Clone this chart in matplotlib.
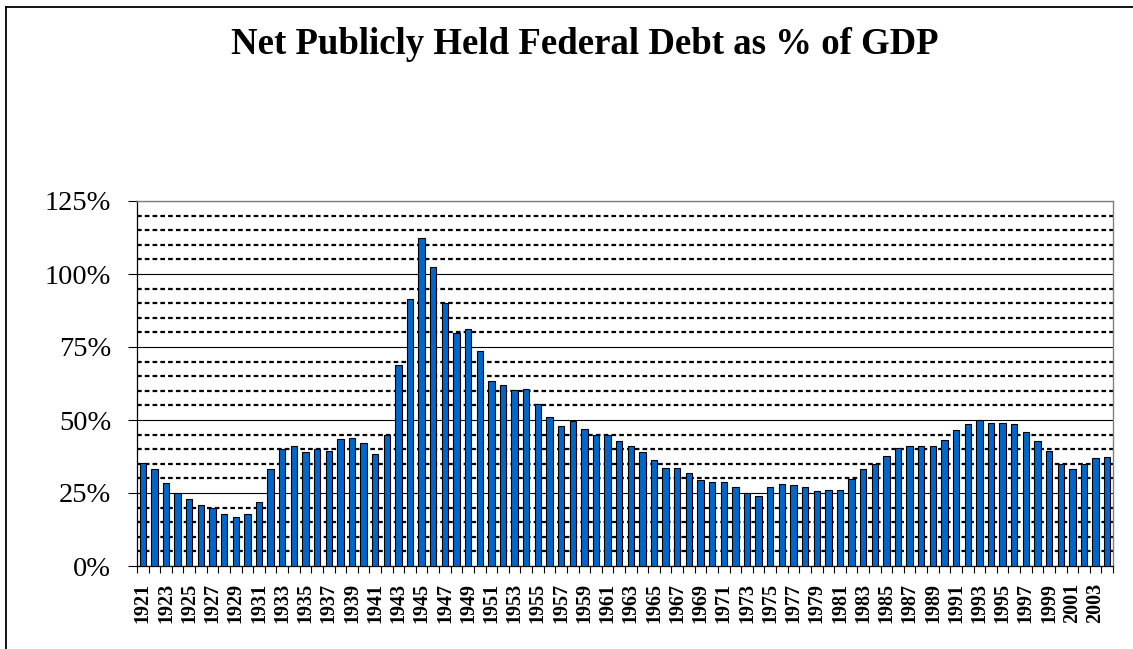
import matplotlib
matplotlib.use("Agg")
import matplotlib.pyplot as plt
from matplotlib.ticker import MultipleLocator, FixedLocator, FuncFormatter
from matplotlib.lines import Line2D
import numpy as np

# Fiscal years shown on the category axis
years = list(range(1921, 2005))

# Net publicly held federal debt, percent of GDP
debt_pct = [
    35.3, 33.2, 28.3, 25.1, 23.1, 21.0, 19.9, 17.7, 16.7, 17.7,   # 1921-1930
    21.9, 33.2, 40.1, 41.2, 38.9, 40.1, 39.5, 43.4, 43.7, 42.2,   # 1931-1940
    38.5, 44.9, 69.0, 91.3, 112.4, 102.4, 90.1, 79.9, 81.1, 73.6,  # 1941-1950
    63.4, 61.9, 60.3, 60.7, 55.4, 51.1, 48.1, 49.5, 46.9, 44.9,   # 1951-1960
    44.9, 42.7, 41.1, 38.9, 36.3, 33.7, 33.7, 32.0, 29.3, 28.9,   # 1961-1970
    28.9, 27.2, 25.1, 24.1, 27.2, 28.2, 27.7, 27.2, 25.6, 26.1,   # 1971-1980
    26.1, 29.8, 33.1, 34.8, 37.8, 40.5, 41.1, 41.1, 41.1, 43.3,   # 1981-1990
    46.5, 48.5, 50.1, 49.1, 49.1, 48.5, 45.9, 42.7, 39.4, 34.8,   # 1991-2000
    33.1, 34.8, 36.9, 37.4,                                       # 2001-2004
]

title = "Net Publicly Held Federal Debt as % of GDP"

W, H = 1133, 649
fig = plt.figure(figsize=(W / 100, H / 100), dpi=100)
fig.patch.set_facecolor("white")

serif = ["Liberation Serif", "DejaVu Serif"]

# chart-area frame: top and left edges
fig.add_artist(Line2D([6 / W, 1.0], [1 - 7 / H, 1 - 7 / H], transform=fig.transFigure,
                      color="black", lw=1.3))
fig.add_artist(Line2D([6 / W, 6 / W], [0.0, 1 - 7 / H], transform=fig.transFigure,
                      color="black", lw=1.3))

fig.text(585 / W, 1 - 45 / H, title, ha="center", va="center",
         fontsize=26.5, fontweight="bold", family=serif)

left, right, top, bottom = 137, 1113, 201, 566
ax = fig.add_axes([left / W, 1 - bottom / H, (right - left) / W, (bottom - top) / H])

x = np.arange(len(years))
ax.bar(x, debt_pct, width=0.55, color="#0066CC", edgecolor="black", linewidth=0.8, zorder=3)

ax.set_xlim(-0.5, len(years) - 0.5)
ax.set_ylim(0, 125)

# y axis: labelled every 25%, dotted guides every 5%
ax.yaxis.set_major_locator(MultipleLocator(25))
ax.yaxis.set_minor_locator(MultipleLocator(5))
ax.yaxis.set_major_formatter(FuncFormatter(lambda v, p: f"{int(round(v))}%"))
ax.tick_params(axis="y", which="major", direction="out", length=6.5, width=0.8,
               pad=12, labelsize=20.5)
ax.tick_params(axis="y", which="minor", length=0)
for lab in ax.get_yticklabels():
    lab.set_family(serif)

ax.set_axisbelow(True)
ax.grid(axis="y", which="major", color="black", lw=0.8, linestyle="-")
ax.grid(axis="y", which="minor", color="black", lw=1.6, linestyle=(0, (2.1, 1.4)))

# x axis: marks between categories, every other year labelled
ax.xaxis.set_minor_locator(FixedLocator(np.arange(len(years) + 1) - 0.5))
ax.xaxis.set_major_locator(FixedLocator(x[::2]))
ax.set_xticklabels([str(y) for y in years[::2]], rotation=90, fontsize=14.5,
                   fontweight="bold", family=serif)
ax.tick_params(axis="x", which="major", length=0, pad=12)
ax.tick_params(axis="x", which="minor", direction="out", length=5, width=0.8)

for side in ("top", "right"):
    ax.spines[side].set_color("#808080")
    ax.spines[side].set_linewidth(1.0)
for side in ("left", "bottom"):
    ax.spines[side].set_color("black")
    ax.spines[side].set_linewidth(0.9)

fig.savefig("out.png", dpi=100, facecolor="white")
